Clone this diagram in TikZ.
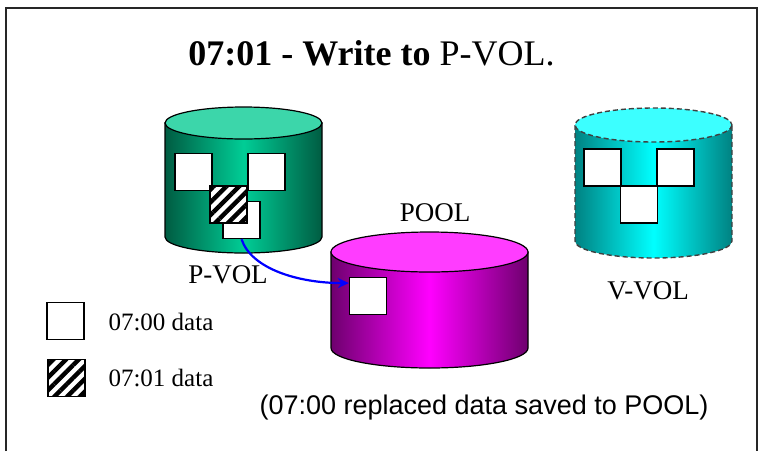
\documentclass[tikz,border=0pt]{standalone}
\usepackage{fontspec}
\setmainfont{Liberation Serif}
\newfontfamily\notefont{Liberation Sans}
\usetikzlibrary{arrows.meta,patterns.meta}

\definecolor{pvtop}{RGB}{60,214,170}
\definecolor{pvdark}{RGB}{0,92,66}
\definecolor{pvmid}{RGB}{0,205,150}
\definecolor{pltop}{RGB}{255,60,255}
\definecolor{pldark}{RGB}{110,0,110}
\definecolor{plmid}{RGB}{255,0,255}
\definecolor{vvtop}{RGB}{60,255,255}
\definecolor{vvdark}{RGB}{0,130,130}
\definecolor{vvmid}{RGB}{0,255,255}

\tikzset{
  datbox/.style={draw, fill=white, line width=1.3pt, minimum size=37pt, inner sep=0pt},
  newbox/.style={draw, line width=1.3pt, minimum size=37pt, inner sep=0pt,
    preaction={fill=white}, pattern={Lines[angle=45,distance=9pt,line width=4.4pt]}},
  cylline/.style={line width=1.2pt},
  virtline/.style={line width=1.4pt, draw=black!75, dash pattern=on 5pt off 3pt},
  volname/.style={font=\fontsize{27}{30}\selectfont},
  legtext/.style={font=\fontsize{25}{28}\selectfont, anchor=west},
  movearrow/.style={blue, line width=2.2pt, -{Stealth[length=11pt,width=10pt]}}
}

\begin{document}
\begin{tikzpicture}[x=1pt,y=-1pt]
\useasboundingbox (0,0) rectangle (763,451);
% frame
\draw[line width=1.5pt, black!85] (6,451) -- (6,8) -- (757,8) -- (757,451);
\node (title) at (371.5,53) {\fontsize{36}{40}\selectfont\textbf{07:01 - Write to} P-VOL.};

% P-VOL
\draw[cylline, left color=pvdark, right color=pvdark, middle color=pvmid]
  (165,123) -- (165,237) arc[start angle=180, end angle=0, x radius=78.5, y radius=16] -- (322,123) -- cycle;
\draw[cylline, fill=pvtop] (243.5,123) ellipse [x radius=78.5, y radius=16];
\node[datbox] (ptl) at (193.5,172) {};
\node[datbox] (ptr) at (266.5,172) {};
\node[datbox] (pmove) at (241.5,220) {};
\node[newbox] (pnew) at (228.5,204.5) {};
\node[volname] (plabel) at (228,275) {P-VOL};

% POOL
\draw[cylline, left color=pldark, right color=pldark, middle color=plmid]
  (331,252) -- (331,348) arc[start angle=180, end angle=0, x radius=98.5, y radius=20] -- (528,252) -- cycle;
\draw[cylline, fill=pltop] (429.5,252) ellipse [x radius=98.5, y radius=20];
\node[datbox] (psq) at (368,296) {};
\node[volname] (poollabel) at (435,213) {POOL};

% V-VOL
\draw[virtline, left color=vvdark, right color=vvdark, middle color=vvmid]
  (575,125) -- (575,241) arc[start angle=180, end angle=0, x radius=78.5, y radius=17] -- (732,125) -- cycle;
\draw[virtline, fill=vvtop] (653.5,125) ellipse [x radius=78.5, y radius=17];
\node[datbox] (vtl) at (602.5,167.5) {};
\node[datbox] (vtr) at (675.5,167.5) {};
\node[datbox] (vbot) at (639,204.5) {};
\node[volname] (vlabel) at (648,291) {V-VOL};

% copy on write
\draw[movearrow] (pmove.south) .. controls +(10,30) and +(-50,0) .. (psq.146);

% legend
\node[datbox] (legold) at (65.5,321) {};
\node[newbox] (legnew) at (66.5,378) {};
\node[legtext] (legoldtxt) at (105,322) {07:00 data};
\node[legtext] (legnewtxt) at (105,378) {07:01 data};

\node (note) at (484,408) {\notefont\fontsize{27}{30}\selectfont(07:00 replaced data saved to POOL)};
\end{tikzpicture}
\end{document}
